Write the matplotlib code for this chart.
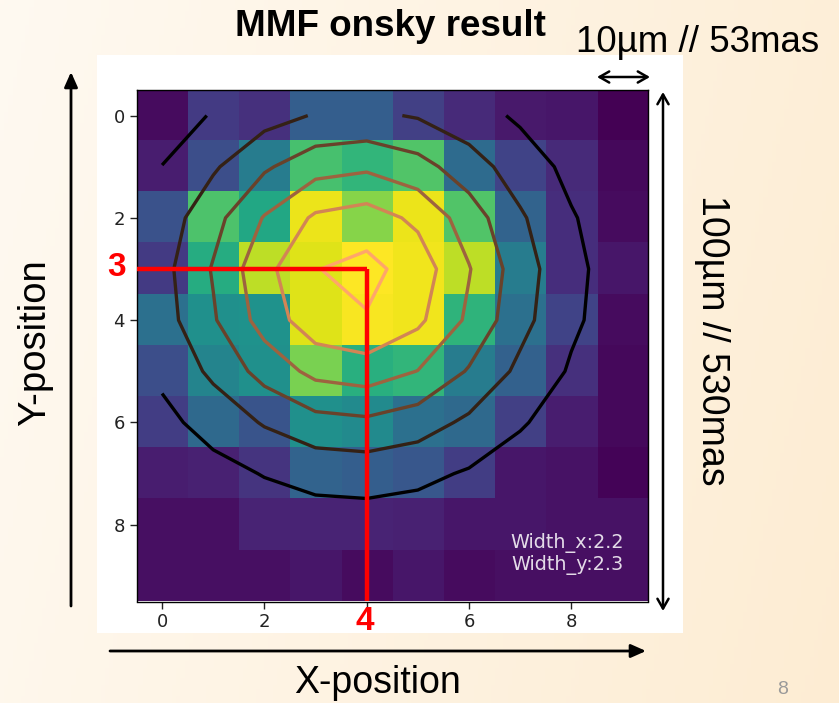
import numpy as np
import matplotlib
matplotlib.use("Agg")
import matplotlib.pyplot as plt
from matplotlib.patches import Rectangle, FancyArrowPatch

# Measured fibre-output intensity on the 10x10 detector patch (normalised)
intensity = [
    [0.03, 0.17, 0.14, 0.30, 0.30, 0.19, 0.12, 0.07, 0.06, 0.00],
    [0.08, 0.24, 0.42, 0.71, 0.66, 0.73, 0.35, 0.20, 0.12, 0.02],
    [0.25, 0.72, 0.60, 0.97, 0.82, 0.97, 0.73, 0.32, 0.13, 0.03],
    [0.17, 0.62, 0.90, 0.95, 1.00, 0.98, 0.90, 0.42, 0.13, 0.06],
    [0.37, 0.50, 0.51, 0.95, 0.99, 0.98, 0.65, 0.37, 0.20, 0.03],
    [0.24, 0.45, 0.50, 0.80, 0.63, 0.66, 0.42, 0.31, 0.14, 0.02],
    [0.18, 0.34, 0.26, 0.50, 0.48, 0.37, 0.34, 0.19, 0.08, 0.02],
    [0.08, 0.09, 0.15, 0.32, 0.30, 0.27, 0.18, 0.06, 0.05, 0.01],
    [0.04, 0.04, 0.10, 0.10, 0.10, 0.09, 0.06, 0.06, 0.05, 0.05],
    [0.04, 0.04, 0.04, 0.06, 0.03, 0.06, 0.03, 0.04, 0.04, 0.04],
]

# 2-D Gaussian fit parameters: height, centre (row, col), widths (row, col)
fit_height = 1.0
fit_center_row = 3.2
fit_center_col = 3.8
width_x = 2.2
width_y = 2.34
contour_levels = [0.160, 0.317, 0.474, 0.631, 0.788, 0.945]
# colour scale of the contour set spans one extra (empty) level above the peak
contour_color_range = (0.160, 1.102)

# Marked peak pixel
peak_col = 4
peak_row = 3

x_ticks = [0, 2, 4, 6, 8]
y_ticks = [0, 2, 4, 6, 8]

W, H = 839, 703
fig = plt.figure(figsize=(W / 100, H / 100), dpi=100)


def fx(x):
    return x / W


def fy(y):
    return 1 - y / H


# slide background: soft cream-to-peach gradient
bg = fig.add_axes([0, 0, 1, 1], zorder=-10)
gx = np.linspace(0, 1, 200)[None, :]
gy = np.linspace(0, 1, 200)[:, None]
c_left = np.array([1.0, 0.978, 0.945])
c_right = np.array([0.992, 0.922, 0.815])
t = np.clip(0.75 * gx + 0.15 * gy, 0, 1)[..., None]
grad = c_left * (1 - t) + c_right * t
bg.imshow(grad, aspect="auto", extent=[0, 1, 0, 1])
bg.set_axis_off()

# white panel behind the plot
fig.add_artist(Rectangle((fx(97), fy(633)), fx(683) - fx(97), fy(55) - fy(633),
                         transform=fig.transFigure, facecolor="white",
                         edgecolor="none", zorder=-5))

ax = fig.add_axes([fx(136.5), fy(602), fx(648) - fx(136.5), fy(89.5) - fy(602)])
data = np.array(intensity)
ax.imshow(data, cmap="viridis", interpolation="nearest")

rows, cols = np.indices(data.shape)
model = fit_height * np.exp(-(((fit_center_row - rows) / width_x) ** 2
                              + ((fit_center_col - cols) / width_y) ** 2) / 2)
ax.contour(model, levels=contour_levels, cmap="copper", linewidths=2.4,
           vmin=contour_color_range[0], vmax=contour_color_range[1])

ax.set_xlim(-0.5, 9.5)
ax.set_ylim(9.5, -0.5)
ax.set_xticks(x_ticks)
ax.set_xticklabels(["" if v == peak_col else str(v) for v in x_ticks])
ax.set_yticks(y_ticks)
ax.tick_params(labelsize=13, length=5, width=1, colors="#222222")
for s in ax.spines.values():
    s.set_linewidth(1.0)

ax.text(9.03, 8.98, "Width_x:%.1f\nWidth_y:%.1f" % (width_x, width_y),
        color="white", alpha=0.85, fontsize=13.8, ha="right", va="bottom",
        linespacing=1.1)

# peak position guide lines
ax.plot([-0.5, peak_col], [peak_row, peak_row], color="red", lw=3.2,
        solid_capstyle="butt", clip_on=False, zorder=5)
ax.plot([peak_col, peak_col], [peak_row, 9.5], color="red", lw=3.2,
        solid_capstyle="butt", clip_on=False, zorder=5)

arial = ["Liberation Sans", "DejaVu Sans"]

fig.text(fx(117), fy(268), str(peak_row), color="red", fontsize=24,
         fontweight="bold", family=arial, ha="center", va="center")
fig.text(fx(365), fy(622), str(peak_col), color="red", fontsize=24,
         fontweight="bold", family=arial, ha="center", va="center")

fig.text(fx(390), fy(27), "MMF onsky result", fontsize=26.5, fontweight="bold",
         family=arial, ha="center", va="center")
fig.text(fx(698), fy(42), "10µm // 53mas", fontsize=26.5, family=arial,
         ha="center", va="center")
fig.text(fx(35), fy(343), "Y-position", fontsize=27.5, family=arial,
         rotation=90, ha="center", va="center")
fig.text(fx(378), fy(683), "X-position", fontsize=27, family=arial,
         ha="center", va="center")
fig.text(fx(712), fy(340), "100µm // 530mas", fontsize=27, family=arial,
         rotation=270, ha="center", va="center")
fig.text(fx(783), fy(690), "8", fontsize=14, color="#9a9a9a", family=arial,
         ha="center", va="center")

# axis direction arrows
fig.add_artist(FancyArrowPatch((fx(71), fy(606)), (fx(71), fy(72)),
                               transform=fig.transFigure,
                               arrowstyle="-|>,head_length=9,head_width=4",
                               lw=2, color="black", shrinkA=0, shrinkB=0))
fig.add_artist(FancyArrowPatch((fx(110), fy(651)), (fx(646), fy(651)),
                               transform=fig.transFigure,
                               arrowstyle="-|>,head_length=9,head_width=4",
                               lw=2, color="black", shrinkA=0, shrinkB=0))
fig.add_artist(FancyArrowPatch((fx(597), fy(77)), (fx(650), fy(77)),
                               transform=fig.transFigure,
                               arrowstyle="<->,head_length=7,head_width=4",
                               lw=1.8, color="black", shrinkA=0, shrinkB=0))
fig.add_artist(FancyArrowPatch((fx(663), fy(92)), (fx(663), fy(611)),
                               transform=fig.transFigure,
                               arrowstyle="<->,head_length=7,head_width=4",
                               lw=1.8, color="black", shrinkA=0, shrinkB=0))

fig.savefig("out.png", dpi=100)
